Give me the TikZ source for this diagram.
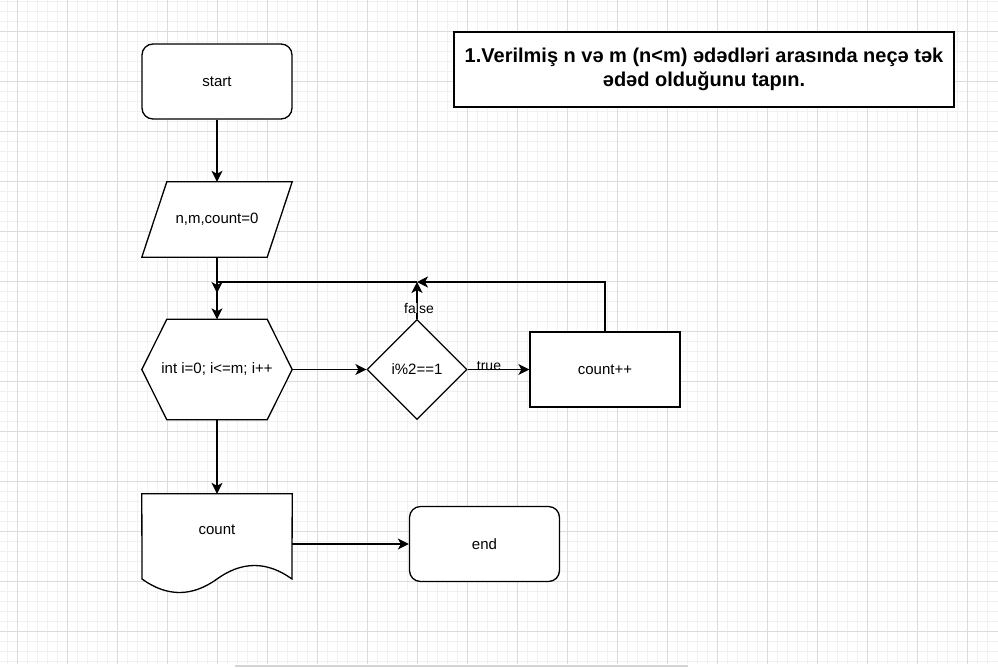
\documentclass[tikz,border=0pt]{standalone}
\usepackage{fontspec}
\setmainfont{Liberation Sans}
\usetikzlibrary{shapes.geometric,arrows.meta}
\definecolor{gridminor}{HTML}{F1F1F1}
\definecolor{gridmajor}{HTML}{DCDCDC}
\definecolor{scrollbar}{HTML}{D4D4D4}
\begin{document}
\begin{tikzpicture}[x=1pt,y=-1pt,
    txt/.style={font=\fontsize{15}{17}\selectfont},
    box/.style={txt,minimum width=150pt,minimum height=75pt,inner sep=0pt},
    outline/.style={draw=black,line width=1.3pt,fill=white},
    flow/.style={line width=1.3pt,-{Stealth[length=11pt,width=11pt,inset=3pt]}},
    lbl/.style={font=\fontsize{14}{16}\selectfont,inner sep=0pt}]
\useasboundingbox (0,0) rectangle (998,667);
% grid
\fill[white] (0,0) rectangle (998,667);
\foreach \x in {7.3,17.3,...,997} \draw[gridminor,line width=0.8pt] (\x,0) -- (\x,664);
\foreach \y in {1.5,11.5,...,663} \draw[gridminor,line width=0.8pt] (0,\y) -- (998,\y);
\foreach \x in {17.3,67.3,...,997} \draw[gridmajor,line width=0.8pt] (\x,0) -- (\x,664);
\foreach \y in {31.5,81.5,...,663} \draw[gridmajor,line width=0.8pt] (0,\y) -- (998,\y);
\fill[scrollbar] (235,665) rectangle (688,667);
% title
\node[outline,txt,font=\fontsize{20}{24}\selectfont\bfseries,minimum width=500pt,minimum height=75pt,align=center] (title) at (704,69.5)
    {1.Verilmiş n və m (n<m) ədədləri arasında neçə tək\\ədəd olduğunu tapın.};
% start and input
\node[box,outline,rounded corners=11pt] (start) at (217,81.5) {start};
\node[box] (inp) at (217,219.5) {};
\draw[outline] (inp.south west) -- ([xshift=25pt]inp.north west) -- (inp.north east) -- ([xshift=-25pt]inp.south east) -- cycle;
\node[txt] at (inp) {n,m,count=0};
% loop
\node[box,minimum height=100pt] (loop) at (217,369.5) {};
\draw[outline] (loop.west) -- ([xshift=25pt]loop.north west) -- ([xshift=-25pt]loop.north east) -- (loop.east)
    -- ([xshift=-25pt]loop.south east) -- ([xshift=25pt]loop.south west) -- cycle;
\node[txt] at (loop) {int i=0; i<=m; i++};
\node[diamond,outline,txt,minimum width=100pt,minimum height=100pt,inner sep=0pt] (odd) at (417,369.5) {i\%2==1};
\node[box,outline,rectangle] (inc) at (605,369.5) {count++};
% output and end
\node[box,minimum height=100pt] (out) at (217,544) {};
\draw[outline] (out.north west) -- (out.north east) -- (292,579) .. controls (267,561) and (242,561) .. (217,579)
    .. controls (192,597) and (167,597) .. (142,579) -- cycle;
\node[txt] at (217,530) {count};
\node[box,outline,rounded corners=11pt] (end) at (484.5,544) {end};
% connectors
\coordinate (join) at (417,282);
\coordinate (mid) at (217,293);
\draw[flow] (start) -- (inp);
\draw[flow] (inp.south) -- (mid);
\draw[flow] (inc.north) |- (join);
\draw[flow] (join) -| (loop.north);
\draw[flow] (odd.north) -- (join);
\node[lbl,fill=white] at (419,308) {false};
\draw[flow] (loop.east) -- (odd.west);
\draw[flow] (odd.east) -- (inc.west);
\node[lbl] at (489,366) {true};
\draw[flow] (loop.south) -- (out.north);
\draw[flow] (out.east) -- (end.west);
\end{tikzpicture}
\end{document}
